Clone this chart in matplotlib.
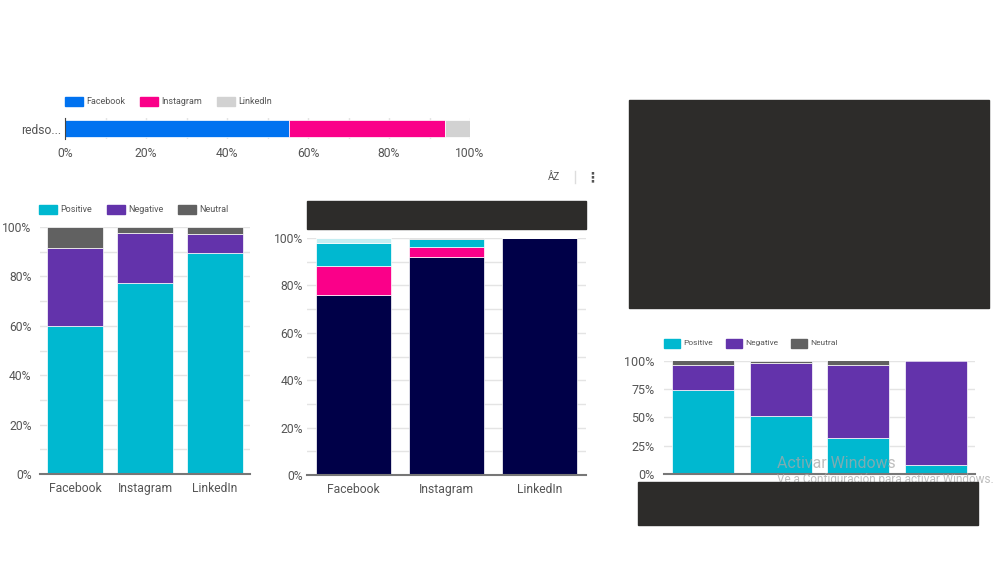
import matplotlib.pyplot as plt
from matplotlib.patches import Rectangle
from matplotlib.ticker import PercentFormatter, MultipleLocator

plt.rcParams['font.family'] = ['Roboto', 'DejaVu Sans']

W, H = 999, 562
TEAL = '#00b8d0'
PURPLE = '#6333ab'
GREY = '#616161'
BLUE = '#0072f0'
PINK = '#fa0089'
LIGHT = '#d2d2d2'
NAVY = '#000048'
PALE = '#c4eef2'
TXT = '#555555'
BLACK = '#2d2c2a'

red_labels = ['Facebook', 'Instagram', 'LinkedIn']
red_values = [55.4, 38.4, 6.2]

sent_labels = ['Positive', 'Negative', 'Neutral']
sent_pos = [60, 77.5, 89.3]
sent_neg = [31.7, 20, 8]
sent_neu = [8.3, 2.5, 2.7]

tipo_navy = [76, 92, 100]
tipo_pink = [12, 4, 0]
tipo_teal = [10, 3.5, 0]
tipo_pale = [2, 0, 0]
tipo_gris = [0, 0.5, 0]

der_pos = [74, 51, 32, 8]
der_neg = [22, 47, 64, 92]
der_neu = [4, 2, 4, 0]


def caja(fig, x0, y0, x1, y1):
    # pixeles de la imagen, y hacia abajo
    return fig.add_axes([x0 / W, 1 - y1 / H, (x1 - x0) / W, (y1 - y0) / H])


def apilar(ax, xs, series, colores, ancho):
    base = [0] * len(xs)
    for valores, color in zip(series, colores):
        ax.bar(xs, valores, ancho, bottom=base, color=color, edgecolor='white',
               linewidth=0.5, zorder=3)
        base = [b + v for b, v in zip(base, valores)]


def estilo_y(ax, paso, menor, tam, pad_y):
    ax.set_ylim(0, 100)
    ax.yaxis.set_major_locator(MultipleLocator(paso))
    ax.yaxis.set_major_formatter(PercentFormatter(100, decimals=0))
    if menor:
        ax.yaxis.set_minor_locator(MultipleLocator(menor))
    ax.grid(axis='y', which='both', color='#e4e4e4', linewidth=1, zorder=0)
    ax.tick_params(axis='y', which='both', length=0, labelsize=tam, labelcolor=TXT, pad=pad_y)
    ax.tick_params(axis='x', length=0, labelsize=tam, labelcolor=TXT, pad=6)
    for lado in ['top', 'right', 'left']:
        ax.spines[lado].set_visible(False)
    ax.spines['bottom'].set_color('#777777')
    ax.spines['bottom'].set_linewidth(1.5)
    ax.spines['bottom'].set_zorder(4)


def leyenda(fig, x, y, nombres, colores, huecos, tam=6.5, caja_w=18):
    # cuadros de color y texto chico arriba de cada grafico
    for nombre, color, dx in zip(nombres, colores, huecos):
        fig.add_artist(Rectangle(((x + dx) / W, 1 - (y + 4.5) / H), caja_w / W, 9 / H,
                                 transform=fig.transFigure, color=color))
        fig.text((x + dx + caja_w + 3) / W, 1 - y / H, nombre, fontsize=tam, color=TXT, va='center')


fig = plt.figure(figsize=(W / 100, H / 100), dpi=100, facecolor='white')

# barra de arriba
ax = caja(fig, 65, 118, 470, 139)
izq = 0
for v, color in zip(red_values, [BLUE, PINK, LIGHT]):
    ax.barh([0], [v], 0.8, left=izq, color=color, edgecolor='white', linewidth=0.5, zorder=3)
    izq += v
ax.set_xlim(0, 100)
ax.set_ylim(-0.5, 0.5)
ax.set_yticks([0], ['redso...'])
ax.xaxis.set_major_locator(MultipleLocator(20))
ax.xaxis.set_minor_locator(MultipleLocator(10))
ax.xaxis.set_major_formatter(PercentFormatter(100, decimals=0))
ax.grid(axis='x', which='both', color='#e4e4e4', linewidth=1, zorder=0)
ax.tick_params(axis='both', which='both', length=0, labelsize=8.7, labelcolor=TXT)
ax.tick_params(axis='x', pad=6)
ax.tick_params(axis='y', pad=3)
for lado in ['top', 'right', 'bottom']:
    ax.spines[lado].set_visible(False)
ax.spines['left'].set_color('#444444')
ax.spines['left'].set_zorder(4)
leyenda(fig, 65, 101.5, red_labels, [BLUE, PINK, LIGHT], [0, 75, 152])

# sentimiento por red
ax = caja(fig, 40, 227, 250, 474)
apilar(ax, [0, 1, 2], [sent_pos, sent_neg, sent_neu], [TEAL, PURPLE, GREY], 0.8)
ax.set_xlim(-0.5, 2.5)
ax.set_xticks([0, 1, 2], red_labels)
estilo_y(ax, 20, 10, 8.7, 6)
leyenda(fig, 39, 209.5, sent_labels, [TEAL, PURPLE, GREY], [0, 68, 139])

# grafico del medio
ax = caja(fig, 307, 238, 586, 475)
apilar(ax, [0, 1, 2], [tipo_navy, tipo_pink, tipo_teal, tipo_pale, tipo_gris],
       [NAVY, PINK, TEAL, PALE, GREY], 0.8)
ax.set_xlim(-0.5, 2.5)
ax.set_xticks([0, 1, 2], red_labels)
estilo_y(ax, 20, 10, 8.7, 3)

# grafico de la derecha
ax = caja(fig, 664, 360.5, 975, 474)
apilar(ax, [0, 1, 2, 3], [der_pos, der_neg, der_neu], [TEAL, PURPLE, GREY], 0.8)
ax.set_xlim(-0.5, 3.5)
ax.set_xticks([])
estilo_y(ax, 25, 0, 9, 7)
leyenda(fig, 664, 343, sent_labels, [TEAL, PURPLE, GREY], [0, 62, 127], tam=6, caja_w=16)

# iconos del menu
fig.text(554 / W, 1 - 177 / H, 'ÂZ', fontsize=7, color=TXT, ha='center', va='center')
fig.text(592.5 / W, 1 - 177 / H, '⋮', fontsize=10, color=TXT, ha='center', va='center',
         family='DejaVu Sans', fontweight='bold')
fig.add_artist(plt.Line2D([575 / W, 575 / W], [1 - 171 / H, 1 - 183 / H], color='#dddddd', linewidth=1))

# marca de agua
fig.text(777 / W, 1 - 463 / H, 'Activar Windows', fontsize=11.4, color='#a8a8a8', alpha=0.75, va='center', zorder=6)
fig.text(777 / W, 1 - 480 / H, 'Ve a Configuración para activar Windows.', fontsize=8.5, color='#a8a8a8',
         alpha=0.75, va='center', zorder=6)

# recuadros tapados
for x0, y0, x1, y1 in [(629, 100, 989, 308), (307, 201, 586, 229), (638, 482, 978, 525)]:
    fig.add_artist(Rectangle((x0 / W, 1 - y1 / H), (x1 - x0) / W, (y1 - y0) / H,
                             transform=fig.transFigure, color=BLACK, zorder=7))

fig.savefig('out.png', dpi=100)
